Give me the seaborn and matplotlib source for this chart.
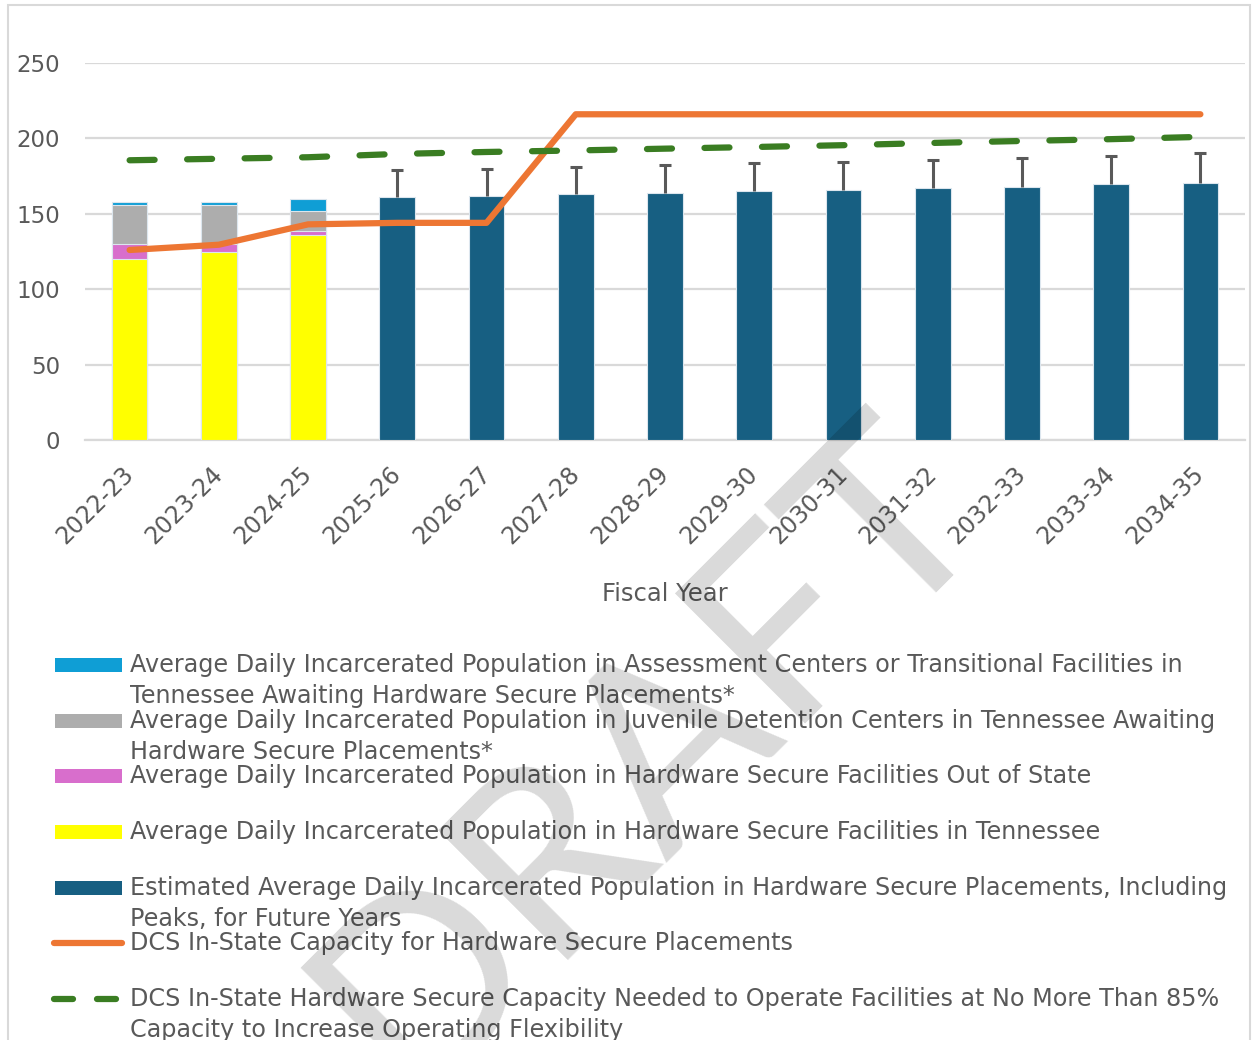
import numpy as np
import pandas as pd
import matplotlib
matplotlib.use("Agg")
import matplotlib.pyplot as plt
import seaborn as sns
from matplotlib.patches import Rectangle
from matplotlib.lines import Line2D

# ---------------- data ----------------
years = ["2022-23", "2023-24", "2024-25", "2025-26", "2026-27", "2027-28", "2028-29",
         "2029-30", "2030-31", "2031-32", "2032-33", "2033-34", "2034-35"]
hist_years = ["2022-23", "2023-24", "2024-25"]
in_state = [120, 125, 136]          # yellow
out_of_state = [10, 5, 2.5]         # pink
detention = [26, 26, 13.5]          # gray
assessment = [1.5, 2, 7.5]          # light blue

fc_years = ["2025-26", "2026-27", "2027-28", "2028-29", "2029-30", "2030-31",
            "2031-32", "2032-33", "2033-34", "2034-35"]
forecast = [161, 162, 163, 164, 165, 166, 167, 168, 169.5, 170.6]
forecast_peak = [179, 180, 181, 182.3, 183.5, 184.6, 185.7, 187.2, 188.5, 190]

capacity = [126, 129.5, 143, 144, 144, 216, 216, 216, 216, 216, 216, 216, 216]
needed_85 = [185.5, 186.5, 187.5, 189.7, 191, 192, 193.2, 194.3, 195.5, 197, 198.3, 199.5, 201]

legend_labels = [
    ["Average Daily Incarcerated Population in Assessment Centers or Transitional Facilities in",
     "Tennessee Awaiting Hardware Secure Placements*"],
    ["Average Daily Incarcerated Population in Juvenile Detention Centers in Tennessee Awaiting",
     "Hardware Secure Placements*"],
    ["Average Daily Incarcerated Population in Hardware Secure Facilities Out of State"],
    ["Average Daily Incarcerated Population in Hardware Secure Facilities in Tennessee"],
    ["Estimated Average Daily Incarcerated Population in Hardware Secure Placements, Including",
     "Peaks, for Future Years"],
    ["DCS In-State Capacity for Hardware Secure Placements"],
    ["DCS In-State Hardware Secure Capacity Needed to Operate Facilities at No More Than 85%",
     "Capacity to Increase Operating Flexibility"],
]

# ---------------- style ----------------
C_BLUE = "#0F9ED5"
C_GRAY = "#ADADAD"
C_PINK = "#D86ECC"
C_YELLOW = "#FFFF00"
C_DARK = "#175F82"
C_ORANGE = "#ED7633"
C_GREEN = "#3A7D22"
C_TEXT = "#595959"
C_GRID = "#D9D9D9"

sns.set_theme(style="white")
plt.rcParams["font.family"] = ["DejaVu Sans"]

W, H = 1253, 1040
fig = plt.figure(figsize=(W / 100, H / 100), dpi=100)
fig.patch.set_facecolor("white")

def fx(px):
    return px / W

def fy(py):
    return 1 - py / H

ax_left, ax_right, ax_top, ax_bottom = 85, 1245, 63, 440
ax = fig.add_axes([fx(ax_left), fy(ax_bottom), (ax_right - ax_left) / W, (ax_bottom - ax_top) / H])

# stacked historical bars (drawn from tallest cumulative to shortest)
cum_yellow = np.array(in_state, dtype=float)
cum_pink = cum_yellow + np.array(out_of_state)
cum_gray = cum_pink + np.array(detention)
cum_blue = cum_gray + np.array(assessment)
bar_kw = dict(order=years, width=0.4, saturation=1, errorbar=None, ax=ax,
              edgecolor="#DCE6EE", linewidth=0.8)
for cum, col in [(cum_blue, C_BLUE), (cum_gray, C_GRAY), (cum_pink, C_PINK), (cum_yellow, C_YELLOW)]:
    sns.barplot(x=hist_years, y=cum, color=col, **bar_kw)

sns.barplot(x=fc_years, y=forecast, color=C_DARK, **bar_kw)

# error bars (upper only)
fc_pos = [years.index(y) for y in fc_years]
upper = np.array(forecast_peak) - np.array(forecast)
eb = ax.errorbar(fc_pos, forecast, yerr=[np.zeros_like(upper), upper], fmt="none",
                 ecolor=C_TEXT, elinewidth=2.2, capsize=4, capthick=2.2, zorder=1.5)
eb[1][0].set_visible(False)

pos = np.arange(len(years))
sns.lineplot(x=pos, y=capacity, color=C_ORANGE, linewidth=4.5, ax=ax,
             solid_capstyle="round", solid_joinstyle="round", zorder=4)
sns.lineplot(x=pos, y=needed_85, color=C_GREEN, linewidth=4.5, ax=ax,
             linestyle=(0, (4.0, 5.2)), dash_capstyle="round", zorder=4)

# axes formatting
ax.set_xlim(-0.5, len(years) - 0.5)
ax.set_ylim(0, 250)
ax.set_yticks([0, 50, 100, 150, 200, 250])
ax.yaxis.grid(True, color=C_GRID, linewidth=1.6)
ax.xaxis.grid(False)
ax.set_axisbelow(True)
for s in ["top", "right", "left"]:
    ax.spines[s].set_visible(False)
ax.spines["bottom"].set_color(C_GRID)
ax.spines["bottom"].set_linewidth(1.6)
ax.spines["bottom"].set_zorder(0.5)

ax.set_xticks(pos)
ax.set_xticklabels(years, rotation=45, ha="right", va="center", rotation_mode="anchor",
                   fontsize=17, color=C_TEXT)
ax.set_xticks(np.arange(-0.5, len(years)), minor=True)
ax.tick_params(axis="x", which="major", length=0, pad=22)
ax.tick_params(axis="x", which="minor", length=9, width=1.6, color=C_GRID, direction="out")
ax.tick_params(axis="y", length=0, pad=18, labelsize=16.5, labelcolor=C_TEXT)
ax.set_xlabel("Fiscal Year", fontsize=17.5, color=C_TEXT)
ax.xaxis.set_label_coords(0.5, -(594 - ax_bottom) / (ax_bottom - ax_top))
ax.xaxis.label.set_va("center")
ax.set_ylabel("")

# ---------------- manual legend ----------------
entry_y = [665, 721, 776, 832, 888, 943, 999]
handle_kinds = [("rect", C_BLUE), ("rect", C_GRAY), ("rect", C_PINK), ("rect", C_YELLOW),
                ("rect", C_DARK), ("line", C_ORANGE), ("dash", C_GREEN)]
for (kind, col), yc, lines in zip(handle_kinds, entry_y, legend_labels):
    if kind == "rect":
        fig.add_artist(Rectangle((fx(55), fy(yc + 7)), fx(122) - fx(55), 14 / H,
                                 transform=fig.transFigure, facecolor=col, edgecolor="none"))
    elif kind == "line":
        fig.add_artist(Line2D([fx(54), fx(122)], [fy(yc), fy(yc)], transform=fig.transFigure,
                              color=col, linewidth=4.5, solid_capstyle="round"))
    else:
        for x0, x1 in [(54, 73), (97, 116)]:
            fig.add_artist(Line2D([fx(x0), fx(x1)], [fy(yc), fy(yc)], transform=fig.transFigure,
                                  color=col, linewidth=4.5, solid_capstyle="round"))
    for k, line in enumerate(lines):
        fig.text(fx(130), fy(yc + 31 * k), line, fontsize=17.2, color=C_TEXT,
                 ha="left", va="center")

# outer chart border
fig.add_artist(Rectangle((fx(8), fy(1045)), fx(1250) - fx(8), 1040 / H, transform=fig.transFigure,
                         facecolor="none", edgecolor=C_GRID, linewidth=1.5))

# watermark
fig.text(fx(700), fy(805), "DRAFT", rotation=45, rotation_mode="anchor", ha="center",
         va="baseline", fontsize=185, color="black", alpha=0.15, zorder=10,
         family=["Lato", "DejaVu Sans"], fontweight="normal")

fig.savefig("out.png", dpi=100)
